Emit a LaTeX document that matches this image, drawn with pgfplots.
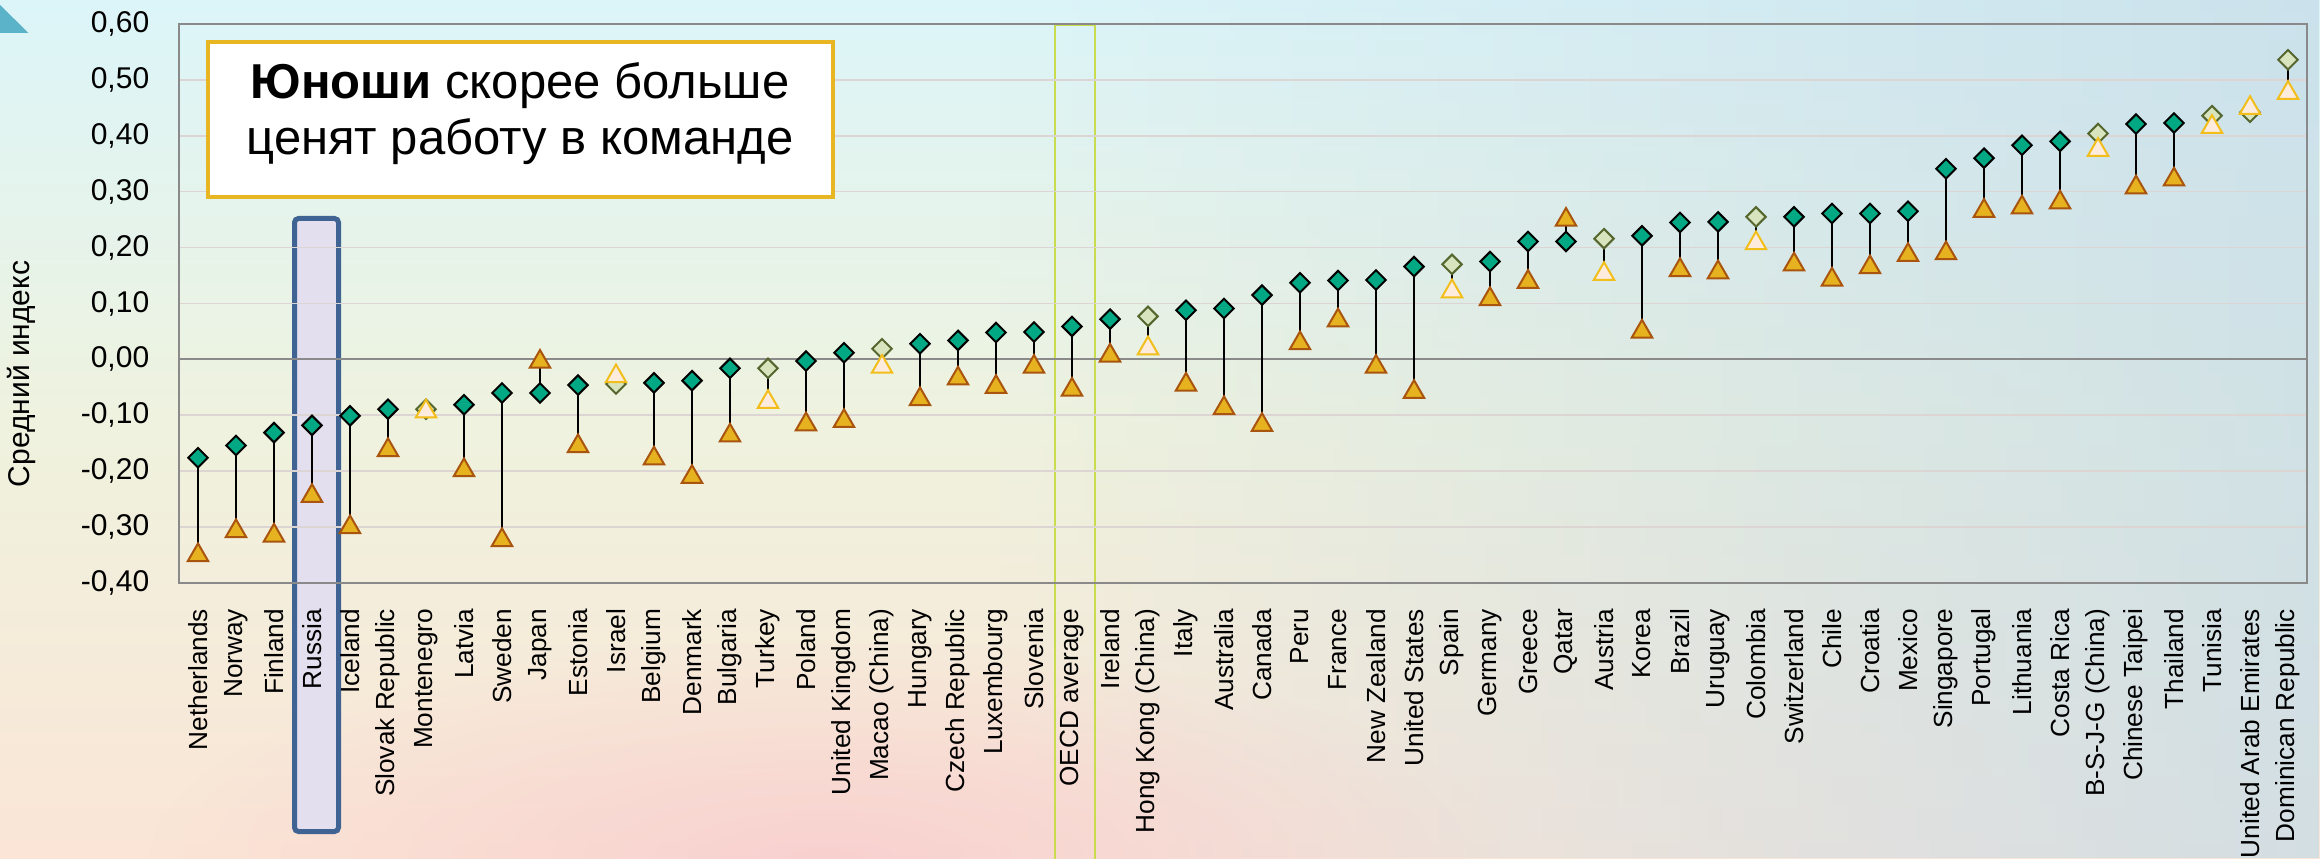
\documentclass[border=0pt]{standalone}
\usepackage{pgfplots}
\pgfplotsset{compat=1.18}
\usepackage{pgfplotstable}
\usepackage{fontspec}
\setmainfont{Liberation Sans}
\usetikzlibrary{fadings}

\definecolor{dteal}{HTML}{00A983}
\definecolor{dgold}{HTML}{E6B21F}
\definecolor{dbrown}{HTML}{A9550F}
\definecolor{lgreen}{HTML}{D8E4BE}
\definecolor{lolive}{HTML}{55662E}
\definecolor{lpeach}{HTML}{FDEBDD}
\definecolor{lyellow}{HTML}{F1BE1C}
\definecolor{gridc}{HTML}{DDD4D4}
\definecolor{axisc}{HTML}{8A8A8A}
\definecolor{boxgold}{HTML}{E8B622}
\definecolor{russb}{HTML}{3F6494}
\definecolor{russf}{HTML}{E3DFEE}
\definecolor{oecdc}{HTML}{C9DC4E}
\definecolor{decor}{HTML}{5AB3C8}
\definecolor{bgtop}{HTML}{DCF5F9}
\definecolor{bgmid}{HTML}{EFF2DE}
\definecolor{bgbot}{HTML}{FBE5D6}
\definecolor{bgright}{HTML}{C6DCE8}
\definecolor{bgpink}{HTML}{F7C6CC}

\tikzfading[name=fadeR, left color=transparent!100, right color=transparent!25]
\tikzfading[name=blob, inner color=transparent!35, outer color=transparent!100]

% significant differences (dark markers): x, boys (d), girls (t)
\pgfplotstableread{
x d t
0 -0.176 -0.345
1 -0.154 -0.302
2 -0.131 -0.310
3 -0.118 -0.239
4 -0.101 -0.295
5 -0.089 -0.157
7 -0.081 -0.193
8 -0.060 -0.318
9 -0.060 0.001
10 -0.046 -0.150
12 -0.042 -0.172
13 -0.038 -0.205
14 -0.016 -0.131
16 -0.003 -0.111
17 0.012 -0.105
19 0.028 -0.066
20 0.034 -0.029
21 0.048 -0.044
22 0.049 -0.008
23 0.059 -0.049
24 0.072 0.012
26 0.088 -0.040
27 0.091 -0.082
28 0.115 -0.112
29 0.137 0.034
30 0.141 0.075
31 0.142 -0.008
32 0.166 -0.053
34 0.175 0.113
35 0.211 0.144
36 0.211 0.255
38 0.221 0.055
39 0.245 0.165
40 0.246 0.161
42 0.255 0.175
43 0.261 0.148
44 0.261 0.170
45 0.265 0.192
46 0.341 0.195
47 0.360 0.271
48 0.383 0.277
49 0.390 0.286
51 0.421 0.313
52 0.423 0.327
}\sig

% not significant (light markers)
\pgfplotstableread{
x d t
6 -0.089 -0.088
11 -0.044 -0.025
15 -0.016 -0.071
18 0.019 -0.008
25 0.077 0.025
33 0.170 0.127
37 0.216 0.158
41 0.255 0.213
50 0.404 0.380
53 0.436 0.421
54 0.442 0.455
55 0.536 0.482
}\nsig

\begin{document}
\begin{tikzpicture}
\path[use as bounding box, clip] (0,0) rectangle (580pt,214.5pt);

\begin{scope}[shift={(0pt,214.5pt)}, x=0.25pt, y=-0.25pt]
  \shade[top color=bgtop, bottom color=bgbot, middle color=bgmid] (0,0) rectangle (2320,858);
  \fill[bgright, path fading=fadeR] (1000,0) rectangle (2320,858);
  \fill[bgpink, path fading=blob] (150,640) rectangle (1500,1080);
  \fill[decor] (0,5) -- (28.5,33) -- (0,33) -- cycle;
  % highlighted Russia column and OECD average
  \draw[russb, line width=1.25pt, fill=russf, rounded corners=1pt] (294.5,218.5) rectangle (338.5,831.5);
  \draw[oecdc, line width=0.45pt] (1055,25.6) rectangle (1095,870);
  \node[rotate=90, font=\fontsize{7.5}{9}\selectfont] at (21,374) {Средний индекс};
\end{scope}

\begin{axis}[
  at={(44.75pt,68.75pt)}, anchor=south west,
  scale only axis, width=532pt, height=139.75pt,
  xmin=-0.5, xmax=55.5, ymin=-0.4, ymax=0.6,
  xtick={0,...,55},
  xticklabels={Netherlands, Norway, Finland, Russia, Iceland, Slovak Republic, Montenegro, Latvia, Sweden, Japan, Estonia, Israel, Belgium, Denmark, Bulgaria, Turkey, Poland, United Kingdom, Macao (China), Hungary, Czech Republic, Luxembourg, Slovenia, OECD average, Ireland, Hong Kong (China), Italy, Australia, Canada, Peru, France, New Zealand, United States, Spain, Germany, Greece, Qatar, Austria, Korea, Brazil, Uruguay, Colombia, Switzerland, Chile, Croatia, Mexico, Singapore, Portugal, Lithuania, Costa Rica, B-S-J-G (China), Chinese Taipei, Thailand, Tunisia, United Arab Emirates, Dominican Republic},
  ytick={-0.4,-0.3,-0.2,-0.1,0,0.1,0.2,0.3,0.4,0.5,0.6},
  ymajorgrids, major grid style={gridc, line width=0.4pt},
  major tick length=0pt,
  axis line style={axisc, line width=0.5pt},
  yticklabel style={font=\fontsize{7.5}{9}\selectfont, inner sep=0pt, xshift=-7.25pt},
  xticklabel style={font=\fontsize{6.55}{8}\selectfont, inner sep=0pt, yshift=-6.3pt, rotate=90, anchor=east},
  /pgf/number format/fixed, /pgf/number format/fixed zerofill,
  /pgf/number format/precision=2, /pgf/number format/use comma,
  /pgf/number format/assume math mode=true,
]
\draw[axisc, line width=0.45pt] (axis cs:-0.5,0) -- (axis cs:55.5,0);

\addplot [draw=none, mark=none, forget plot, error bars/.cd, y dir=both, y explicit, error mark=none,
  error bar style={draw=black, line width=0.45pt}]
  table [x=x, y=d, y error plus expr={max(\thisrow{t}-\thisrow{d},0)}, y error minus expr={max(\thisrow{d}-\thisrow{t},0)}] {\sig};
\addplot [draw=none, mark=none, forget plot, error bars/.cd, y dir=both, y explicit, error mark=none,
  error bar style={draw=black, line width=0.45pt}]
  table [x=x, y=d, y error plus expr={max(\thisrow{t}-\thisrow{d},0)}, y error minus expr={max(\thisrow{d}-\thisrow{t},0)}] {\nsig};

\addplot [only marks, mark=square*, mark size=1.72pt, mark options={rotate=45, draw=black, fill=dteal, line width=0.5pt}]
  table [x=x, y=d] {\sig};
\addplot [only marks, mark=square*, mark size=1.72pt, mark options={rotate=45, draw=lolive, fill=lgreen, line width=0.5pt}]
  table [x=x, y=d] {\nsig};
\addplot [only marks, mark=triangle*, mark size=2.95pt, mark options={yshift=-0.74pt, draw=dbrown, fill=dgold, line width=0.5pt}]
  table [x=x, y=t] {\sig};
\addplot [only marks, mark=triangle*, mark size=2.95pt, mark options={yshift=-0.74pt, draw=lyellow, fill=lpeach, line width=0.5pt}]
  table [x=x, y=t] {\nsig};
\end{axis}

\begin{scope}[shift={(0pt,214.5pt)}, x=0.25pt, y=-0.25pt]
  \draw[boxgold, line width=1pt, fill=white] (208,42) rectangle (833,197);
  \node[anchor=base, inner sep=0pt, font=\fontsize{12.25}{14}\selectfont] at (520,99) {\textbf{Юноши} скорее больше};
  \node[anchor=base, inner sep=0pt, font=\fontsize{12.25}{14}\selectfont] at (520,155) {ценят работу в команде};
\end{scope}
\end{tikzpicture}
\end{document}
